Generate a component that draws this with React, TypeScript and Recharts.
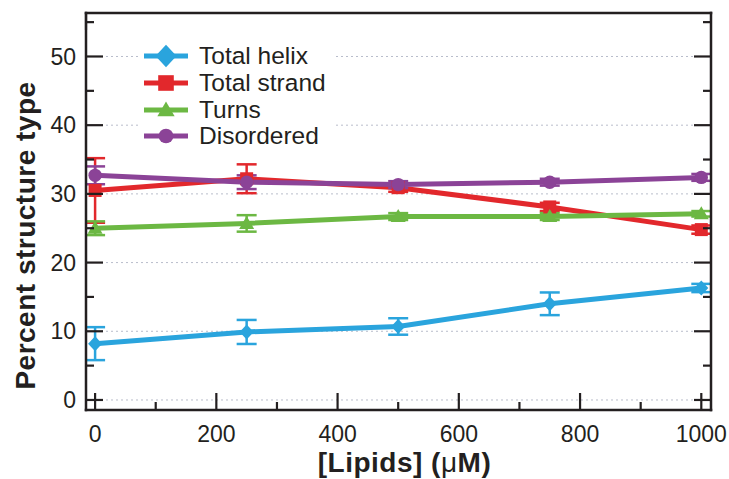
import React from 'react'
import { LineChart, Line, XAxis, YAxis, CartesianGrid, ErrorBar, Legend } from 'recharts'

// lipid concentration (µM) and percent of each structure type, with error bars
const lipids = [0, 250, 500, 750, 1000]
const helix = [8.2, 9.9, 10.7, 14.0, 16.3]
const helixErr = [2.4, 1.75, 1.2, 1.65, 0.6]
const strand = [30.5, 32.2, 30.9, 28.1, 24.8]
const strandErr = [4.7, 2.1, 0.6, 0.6, 0.6]
const turns = [25.0, 25.7, 26.7, 26.7, 27.1]
const turnsErr = [1.0, 1.2, 0.5, 0.5, 0.4]
const disordered = [32.7, 31.7, 31.35, 31.7, 32.4]
const disorderedErr = [1.3, 1.0, 0.5, 0.5, 0.5]

const xTicks = [0, 100, 200, 300, 400, 500, 600, 700, 800, 900, 1000]
const yTicks = [0, 5, 10, 15, 20, 25, 30, 35, 40, 45, 50, 55]
const gridValues = [0, 10, 20, 30, 40, 50]

const X_DOMAIN: [number, number] = [-15, 1016]
const Y_DOMAIN: [number, number] = [-1.46, 56.33]

const FONT = '"Liberation Sans", Arial, Helvetica, sans-serif'
const INK = '#231f20'

type Shape = 'diamond' | 'square' | 'triangle' | 'circle'

const series: { key: string; name: string; color: string; shape: Shape; legendScale: number }[] = [
  { key: 'helix', name: 'Total helix', color: '#2aa4dd', shape: 'diamond', legendScale: 1.5 },
  { key: 'strand', name: 'Total strand', color: '#e2282c', shape: 'square', legendScale: 1.2 },
  { key: 'turns', name: 'Turns', color: '#6cb843', shape: 'triangle', legendScale: 1.15 },
  { key: 'disordered', name: 'Disordered', color: '#8b4397', shape: 'circle', legendScale: 1.1 },
]

const data = lipids.map((x, i) => ({
  lipids: x,
  helix: helix[i], helixErr: helixErr[i],
  strand: strand[i], strandErr: strandErr[i],
  turns: turns[i], turnsErr: turnsErr[i],
  disordered: disordered[i], disorderedErr: disorderedErr[i],
}))

function Marker({ shape, cx, cy, color, s = 1 }: { shape: Shape; cx: number; cy: number; color: string; s?: number }) {
  switch (shape) {
    case 'diamond':
      return <polygon points={`${cx},${cy - 7.5 * s} ${cx + 7 * s},${cy} ${cx},${cy + 7.5 * s} ${cx - 7 * s},${cy}`} fill={color} />
    case 'square':
      return <rect x={cx - 6.5 * s} y={cy - 6.5 * s} width={13 * s} height={13 * s} fill={color} />
    case 'triangle':
      return <polygon points={`${cx},${cy - 7.5 * s} ${cx + 7.5 * s},${cy + 5.5 * s} ${cx - 7.5 * s},${cy + 5.5 * s}`} fill={color} />
    default:
      return <circle cx={cx} cy={cy} r={6.7 * s} fill={color} />
  }
}

// inward ticks: major ones long, minor ones short
const MAJOR = 17
const MINOR = 8

function BottomTick({ x, y, payload }: any) {
  const major = payload.value % 200 === 0
  return (
    <g>
      <line x1={x} y1={y} x2={x} y2={y - (major ? MAJOR : MINOR)} stroke={INK} strokeWidth={2.2} />
      {major && (
        <text x={x} y={y + 31.5} textAnchor="middle" fontFamily={FONT} fontSize={23} fill={INK}>
          {payload.value}
        </text>
      )}
    </g>
  )
}

function TopTick({ x, y, payload }: any) {
  const major = payload.value % 200 === 0
  return <line x1={x} y1={y} x2={x} y2={y + (major ? MAJOR : MINOR)} stroke={INK} strokeWidth={2.2} />
}

function LeftTick({ x, y, payload }: any) {
  const major = payload.value % 10 === 0
  return (
    <g>
      <line x1={x} y1={y} x2={x + (major ? MAJOR : MINOR)} y2={y} stroke={INK} strokeWidth={2.2} />
      {major && (
        <text x={x - 10} y={y + 8.2} textAnchor="end" fontFamily={FONT} fontSize={23} fill={INK}>
          {payload.value}
        </text>
      )}
    </g>
  )
}

function RightTick({ x, y, payload }: any) {
  const major = payload.value % 10 === 0
  return <line x1={x} y1={y} x2={x - (major ? MAJOR : MINOR)} y2={y} stroke={INK} strokeWidth={2.2} />
}

function XTitle({ viewBox }: any) {
  const cx = viewBox.x + viewBox.width / 2 + 6
  return (
    <text x={cx} y={viewBox.y + 61.5} textAnchor="middle" fontFamily={FONT} fontSize={28} fontWeight="bold" letterSpacing={0.5} fill={INK}>
      [Lipids] (<tspan fontWeight="normal">μ</tspan>M)
    </text>
  )
}

function YTitle({ viewBox }: any) {
  const bx = 35
  const cy = viewBox.y + viewBox.height / 2 + 24
  return (
    <text x={bx} y={cy} transform={`rotate(-90, ${bx}, ${cy})`} textAnchor="middle" fontFamily={FONT} fontSize={28} fontWeight="bold" letterSpacing={0.5} fill={INK}>
      Percent structure type
    </text>
  )
}

function LegendBox() {
  return (
    <div style={{ background: '#fff', padding: '3px 10px 8px 6px', fontFamily: FONT, fontSize: 24.5, color: INK }}>
      {series.map((s) => (
        <div key={s.key} style={{ display: 'flex', alignItems: 'center', height: 26.7 }}>
          <svg width={44} height={26} style={{ marginRight: 11, overflow: 'visible' }}>
            <line x1={0} y1={13} x2={44} y2={13} stroke={s.color} strokeWidth={5} />
            <Marker shape={s.shape} cx={22} cy={13} color={s.color} s={s.legendScale} />
          </svg>
          <span style={{ lineHeight: '26px' }}>{s.name}</span>
        </div>
      ))}
    </div>
  )
}

const frame = { stroke: INK, strokeWidth: 2.5, strokeLinecap: 'square' as const }

export default function App() {
  return (
    <div style={{ position: 'absolute', left: 0, top: 0, width: 729, height: 479, background: '#fff' }}>
      <LineChart width={729} height={479} data={data} margin={{ top: 13, right: 18, bottom: 0, left: 0 }}>
        <CartesianGrid xAxisId="b" yAxisId="l" vertical={false} horizontalValues={gridValues} stroke="#b9bdcb" strokeDasharray="2 3" />
        <XAxis xAxisId="b" dataKey="lipids" type="number" domain={X_DOMAIN} allowDataOverflow ticks={xTicks} interval={0}
          tickSize={0} tickMargin={0} tickLine={false} tick={(p: any) => <BottomTick {...p} />} axisLine={frame} height={69}
          label={<XTitle />} />
        <XAxis xAxisId="t" orientation="top" mirror type="number" domain={X_DOMAIN} allowDataOverflow ticks={xTicks} interval={0}
          tickSize={0} tickMargin={0} tickLine={false} tick={(p: any) => <TopTick {...p} />} axisLine={frame} />
        <YAxis yAxisId="l" type="number" domain={Y_DOMAIN} allowDataOverflow ticks={yTicks} interval={0}
          tickSize={0} tickMargin={0} tickLine={false} tick={(p: any) => <LeftTick {...p} />} axisLine={frame} width={86}
          label={<YTitle />} />
        <YAxis yAxisId="r" orientation="right" mirror type="number" domain={Y_DOMAIN} allowDataOverflow ticks={yTicks} interval={0}
          tickSize={0} tickMargin={0} tickLine={false} tick={(p: any) => <RightTick {...p} />} axisLine={frame} />
        <Legend layout="vertical" align="center" verticalAlign="middle" content={<LegendBox />}
          wrapperStyle={{ left: 138, top: 40, width: 'auto' }} />
        {series.map((s) => (
          <Line key={s.key} xAxisId="b" yAxisId="l" dataKey={s.key} name={s.name} stroke={s.color} strokeWidth={5}
            strokeLinejoin="round" isAnimationActive={false}
            dot={(p: any) => <Marker key={`${s.key}-${p.index}`} shape={s.shape} cx={p.cx} cy={p.cy} color={s.color} />}
            activeDot={false}>
            <ErrorBar dataKey={`${s.key}Err`} direction="y" width={10} strokeWidth={2.5} stroke={s.color} isAnimationActive={false} />
          </Line>
        ))}
      </LineChart>
    </div>
  )
}
